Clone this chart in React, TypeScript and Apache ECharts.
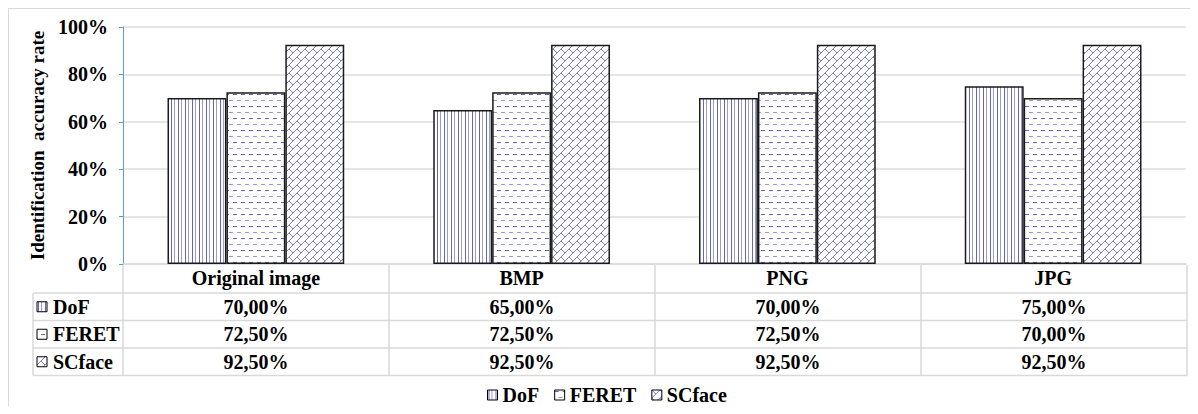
import React, { useEffect, useRef } from 'react';
import * as echarts from 'echarts';

// Chart data
const categories = ['Original image', 'BMP', 'PNG', 'JPG'];
const seriesNames = ['DoF', 'FERET', 'SCface'];
const dofValues = [70, 65, 70, 75];
const feretValues = [72.5, 72.5, 72.5, 70];
const scfaceValues = [92.5, 92.5, 92.5, 92.5];
const seriesValues = [dofValues, feretValues, scfaceValues];
const yAxisTitle = 'Identification  accuracy rate';

const FONT = 'Liberation Serif, serif';
const FS = 20;

type Ctx = CanvasRenderingContext2D;

function makeTile(w: number, h: number, draw: (ctx: Ctx) => void) {
  const c = document.createElement('canvas');
  c.width = w;
  c.height = h;
  const ctx = c.getContext('2d') as Ctx;
  ctx.fillStyle = '#ffffff';
  ctx.fillRect(0, 0, w, h);
  draw(ctx);
  return { image: c.toDataURL(), repeat: 'repeat', imageWidth: w, imageHeight: h } as any;
}

// vertical stripes
function stripePattern() {
  return makeTile(7, 2, (ctx) => {
    ctx.fillStyle = '#6464c2';
    ctx.fillRect(1, 0, 1, 2);
    ctx.fillStyle = '#9a9ad8';
    ctx.fillRect(4, 0, 1, 2);
  });
}

// dashed horizontal lines, alternating offset
function dashPattern() {
  return makeTile(8, 12, (ctx) => {
    ctx.fillStyle = '#6464c2';
    ctx.fillRect(0, 1, 4, 1);
    ctx.fillStyle = '#9696d6';
    ctx.fillRect(4, 7, 4, 1);
  });
}

// diagonal brick weave
function weavePattern() {
  return makeTile(8, 8, (ctx) => {
    ctx.strokeStyle = '#8080cc';
    ctx.lineWidth = 1;
    for (let ox = -8; ox <= 8; ox += 8) {
      for (let oy = -8; oy <= 8; oy += 8) {
        ctx.beginPath();
        ctx.moveTo(ox, oy + 8);
        ctx.lineTo(ox + 8, oy);
        ctx.moveTo(ox, oy);
        ctx.lineTo(ox + 4, oy + 4);
        ctx.stroke();
      }
    }
  });
}

function fmt(v: number) {
  return v.toFixed(2).replace('.', ',') + '%';
}

export default function App() {
  const ref = useRef<HTMLDivElement>(null);

  useEffect(() => {
    if (!ref.current) return;
    const chart = echarts.init(ref.current, undefined, { renderer: 'svg' });

    const patterns = [stripePattern(), dashPattern(), weavePattern()];

    const W = 1182;
    const H = 398;
    const gridLeft = 114;
    const gridRight = 1178;
    const gridTop = 18;
    const gridBottom = 256;
    const headerBottom = 284;
    const rowH = 27.5;
    const labelLeft = 24;
    const colW = (gridRight - gridLeft) / categories.length;
    const lineColor = '#d9d9d9';
    const textStyle = { fontFamily: FONT, fontWeight: 'bold', fontSize: FS, color: '#000' };

    const graphics: any[] = [];
    // table frame lines
    for (let j = 0; j <= categories.length; j++) {
      const x = gridLeft + colW * j;
      graphics.push({
        type: 'line',
        shape: { x1: x, y1: gridBottom, x2: x, y2: headerBottom + rowH * seriesNames.length },
        style: { stroke: lineColor, lineWidth: 1.5 },
        silent: true,
      });
    }
    graphics.push({
      type: 'line',
      shape: { x1: labelLeft, y1: headerBottom, x2: labelLeft, y2: headerBottom + rowH * seriesNames.length },
      style: { stroke: lineColor, lineWidth: 1.5 },
      silent: true,
    });
    for (let i = 0; i <= seriesNames.length; i++) {
      const y = headerBottom + rowH * i;
      graphics.push({
        type: 'line',
        shape: { x1: labelLeft, y1: y, x2: gridRight, y2: y },
        style: { stroke: lineColor, lineWidth: 1.5 },
        silent: true,
      });
    }
    // rows: legend key, series name, values
    seriesNames.forEach((name, i) => {
      const cy = headerBottom + rowH * i + rowH / 2;
      graphics.push({
        type: 'rect',
        shape: { x: 28, y: cy - 5, width: 10, height: 10 },
        style: { fill: patterns[i], stroke: '#000', lineWidth: 1 },
        silent: true,
      });
      graphics.push({
        type: 'text',
        x: 44,
        y: cy,
        style: {
          text: name,
          fontFamily: FONT,
          fontWeight: 'bold',
          fontSize: FS,
          fill: '#000',
          align: 'left',
          verticalAlign: 'middle',
        },
        silent: true,
      });
      seriesValues[i].forEach((v, j) => {
        graphics.push({
          type: 'text',
          x: gridLeft + colW * (j + 0.5),
          y: cy,
          style: {
            text: fmt(v),
            fontFamily: FONT,
            fontWeight: 'bold',
            fontSize: FS,
            fill: '#000',
            align: 'center',
            verticalAlign: 'middle',
          },
          silent: true,
        });
      });
    });

    chart.setOption({
      animation: false,
      backgroundColor: '#ffffff',
      textStyle: { fontFamily: FONT },
      grid: {
        left: gridLeft,
        right: W - gridRight,
        top: gridTop,
        bottom: H - gridBottom,
        containLabel: false,
      },
      legend: {
        data: seriesNames,
        left: 473,
        top: 371,
        icon: 'rect',
        itemWidth: 10,
        itemHeight: 10,
        itemGap: 15,
        itemStyle: { borderColor: '#000', borderWidth: 1 },
        textStyle,
      },
      xAxis: {
        type: 'category',
        data: categories,
        axisLine: { show: true, lineStyle: { color: lineColor, width: 1.5 } },
        axisTick: { show: false },
        axisLabel: { margin: 14, verticalAlign: 'middle', ...textStyle },
      },
      yAxis: {
        type: 'value',
        min: 0,
        max: 100,
        interval: 20,
        name: yAxisTitle,
        nameLocation: 'middle',
        nameRotate: 90,
        nameGap: 75,
        nameTextStyle: { fontFamily: FONT, fontWeight: 'bold', fontSize: 19, color: '#000' },
        axisLine: { show: true, lineStyle: { color: '#5b9bd5', width: 1 } },
        axisTick: { show: true, length: 4, lineStyle: { color: '#5b9bd5' } },
        axisLabel: { margin: 15, formatter: '{value}%', ...textStyle },
        splitLine: { show: true, lineStyle: { color: '#dcdcdc', width: 1.5 } },
      },
      series: seriesNames.map((name, i) => ({
        name,
        type: 'bar',
        data: seriesValues[i],
        barGap: '0%',
        barCategoryGap: '33.5%',
        itemStyle: { color: patterns[i], borderColor: '#1a1a1a', borderWidth: 1.5 },
        emphasis: { disabled: true },
      })),
      graphic: graphics,
    });

    return () => chart.dispose();
  }, []);

  return (
    <div
      ref={ref}
      style={{
        width: 1182,
        height: 398,
        borderTop: '1.5px solid #d9d9d9',
        borderLeft: '1.5px solid #d9d9d9',
        boxSizing: 'border-box',
      }}
    />
  );
}
